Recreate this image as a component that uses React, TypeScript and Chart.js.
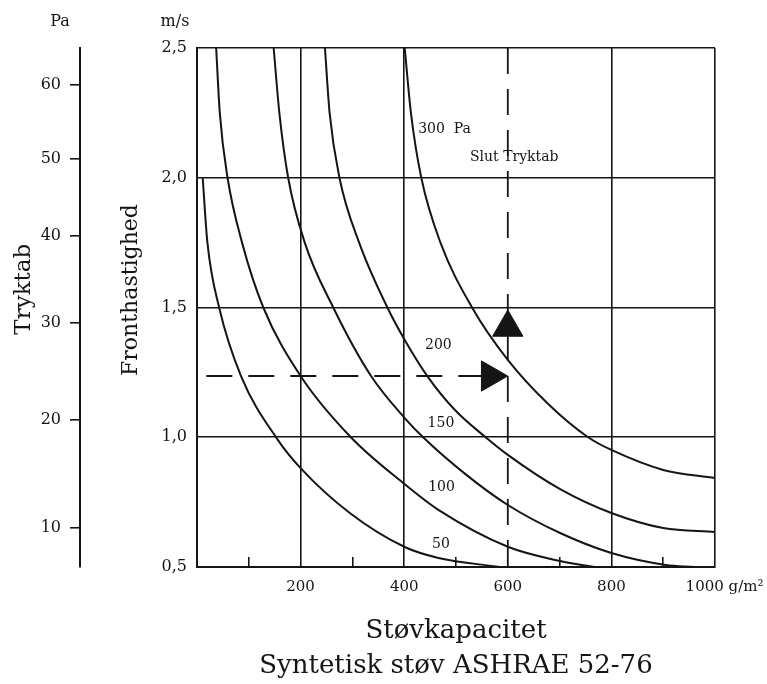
import React, { useEffect, useRef } from 'react';
import { Chart, registerables } from 'chart.js';

Chart.register(...registerables);

const FONT = "'DejaVu Serif', 'Liberation Serif', serif";
const INK = '#151515';

// ---- data (dust capacity g/m² vs. face velocity m/s), one curve per final pressure drop ----
const curve50Dust = [11, 20, 43, 85, 156, 200, 295, 401, 466, 584];
const curve50Vel = [2.0, 1.752, 1.498, 1.236, 0.99, 0.881, 0.708, 0.577, 0.535, 0.5];

const curve100Dust = [37, 44, 59, 87, 128, 200, 297, 401, 466, 600, 701, 768];
const curve100Vel = [2.5, 2.25, 2.0, 1.75, 1.5, 1.236, 1.0, 0.819, 0.72, 0.578, 0.523, 0.5];

const curve150Dust = [148, 159, 176, 208, 263, 336, 401, 438, 520, 600, 701, 800, 905, 960];
const curve150Vel = [2.5, 2.25, 2.0, 1.75, 1.5, 1.236, 1.074, 0.997, 0.855, 0.739, 0.631, 0.554, 0.508, 0.5];

const curve200Dust = [247, 256, 275, 313, 368, 401, 446, 498, 559, 600, 701, 800, 900, 1000];
const curve200Vel = [2.5, 2.25, 2.0, 1.75, 1.498, 1.375, 1.232, 1.105, 0.997, 0.932, 0.8, 0.708, 0.65, 0.635];

const curve300Dust = [401, 413, 433, 470, 531, 600, 678, 755, 800, 900, 1000];
const curve300Vel = [2.5, 2.25, 2.0, 1.75, 1.5, 1.298, 1.128, 1.0, 0.951, 0.874, 0.843];

const curveNames = ['50', '100', '150', '200', '300 Pa'];

// operating point example (dashed guide lines + arrows)
const guideVelocity = 1.236;
const guideStartDust = 18;
const guideDust = 600;
const arrowUpVelocity = 1.423;
const arrowRightDust = 566;

// ---- axes ----
const xMin = 0;
const xMax = 1000;
const xMajorValues = [200, 400, 600, 800, 1000];
const xMajorLabels = ['200', '400', '600', '800', '1000'];
const xUnit = 'g/m²';
const xMinorValues = [100, 300, 500, 700, 900];
const xGridValues = [200, 400, 800, 1000];

const yMin = 0.5;
const yMax = 2.5;
const yTickValues = [0.5, 1.0, 1.5, 2.0, 2.5];
const yTickLabels = ['0,5', '1,0', '1,5', '2,0', '2,5'];

const paTickLabels = ['10', '20', '30', '40', '50', '60'];
const paTickAtVelocity = [0.65, 1.066, 1.44, 1.776, 2.072, 2.357];

// ---- text annotations (data coordinates) ----
const annotations = [
  { text: '300  Pa', x: 427, y: 2.188, align: 'left' },
  { text: 'Slut Tryktab', x: 527, y: 2.078, align: 'left' },
  { text: '200', x: 466, y: 1.355, align: 'center' },
  { text: '150', x: 471, y: 1.055, align: 'center' },
  { text: '100', x: 472, y: 0.808, align: 'center' },
  { text: '50', x: 471, y: 0.589, align: 'center' },
];

const toPoints = (xs: number[], ys: number[]) => xs.map((x, i) => ({ x, y: ys[i] }));

const textPlugin = {
  id: 'chartText',
  afterDatasetsDraw(chart: any) {
    const { ctx, scales, chartArea } = chart;
    const xs = scales.x;
    const ys = scales.y;
    const pa = scales.pa;
    ctx.save();
    ctx.fillStyle = INK;
    ctx.textBaseline = 'middle';
    ctx.font = `14px ${FONT}`;
    for (const a of annotations) {
      ctx.textAlign = a.align;
      ctx.fillText(a.text, xs.getPixelForValue(a.x), ys.getPixelForValue(a.y));
    }
    ctx.font = `16px ${FONT}`;
    ctx.textAlign = 'center';
    ctx.fillText('Pa', pa.right - 20, chartArea.top - 26);
    ctx.fillText('m/s', ys.right - 22, chartArea.top - 26);
    ctx.restore();
  },
};

export default function App() {
  const ref = useRef<HTMLCanvasElement | null>(null);

  useEffect(() => {
    if (!ref.current) return;
    const curveSets = [
      [curve50Dust, curve50Vel],
      [curve100Dust, curve100Vel],
      [curve150Dust, curve150Vel],
      [curve200Dust, curve200Vel],
      [curve300Dust, curve300Vel],
    ];
    const datasets: any[] = [
      {
        type: 'scatter',
        label: 'arrow up',
        data: [{ x: guideDust, y: arrowUpVelocity }],
        pointStyle: 'triangle',
        pointRadius: 17.5,
        pointRotation: 0,
        pointBackgroundColor: INK,
        pointBorderColor: INK,
        pointBorderWidth: 1,
        order: 1,
      },
      {
        type: 'scatter',
        label: 'arrow right',
        data: [{ x: arrowRightDust, y: guideVelocity }],
        pointStyle: 'triangle',
        pointRadius: 17.5,
        pointRotation: 90,
        pointBackgroundColor: INK,
        pointBorderColor: INK,
        pointBorderWidth: 1,
        order: 1,
      },
      {
        type: 'line',
        label: 'guide h',
        data: [
          { x: guideStartDust, y: guideVelocity },
          { x: arrowRightDust, y: guideVelocity },
        ],
        borderColor: INK,
        borderWidth: 1.8,
        borderDash: [26, 16],
        pointRadius: 0,
        order: 2,
      },
      {
        type: 'line',
        label: 'guide v',
        data: [
          { x: guideDust, y: yMax },
          { x: guideDust, y: yMin },
        ],
        borderColor: INK,
        borderWidth: 1.8,
        borderDash: [26, 15],
        pointRadius: 0,
        order: 2,
      },
      ...curveSets.map(([xs, ys], i) => ({
        type: 'line',
        label: curveNames[i],
        data: toPoints(xs, ys),
        borderColor: INK,
        borderWidth: 2,
        pointRadius: 0,
        cubicInterpolationMode: 'monotone',
        fill: false,
        order: 3,
      })),
    ];

    const chart = new Chart(ref.current, {
      type: 'line',
      data: { datasets },
      plugins: [textPlugin],
      options: {
        animation: false,
        responsive: true,
        maintainAspectRatio: false,
        events: [],
        layout: { padding: { top: 48, right: 52, bottom: 0, left: 0 } },
        plugins: {
          legend: { display: false },
          tooltip: { enabled: false },
        },
        scales: {
          x: {
            type: 'linear',
            position: 'bottom',
            min: xMin,
            max: xMax,
            afterBuildTicks: (s: any) => {
              s.ticks = [...xMinorValues, ...xMajorValues]
                .sort((a, b) => a - b)
                .map((v) => ({ value: v }));
            },
            afterFit: (s: any) => {
              s.height = 117;
              s.paddingLeft = 0;
              s.paddingRight = 0;
            },
            ticks: {
              autoSkip: false,
              maxRotation: 0,
              minRotation: 0,
              padding: 21,
              color: INK,
              font: { family: FONT, size: 15 },
              callback: (v: any) => {
                const idx = xMajorValues.indexOf(Number(v));
                if (idx < 0) return '';
                return Number(v) === xMax ? `    ${xMajorLabels[idx]} ${xUnit}` : xMajorLabels[idx];
              },
            },
            grid: {
              drawTicks: true,
              tickLength: -10,
              lineWidth: 1.6,
              color: (c: any) => (xGridValues.includes(c.tick?.value) ? INK : 'rgba(0,0,0,0)'),
              tickColor: (c: any) => (xMinorValues.includes(c.tick?.value) ? INK : 'rgba(0,0,0,0)'),
            },
            border: { display: true, width: 2, color: INK },
            title: {
              display: true,
              text: ['Støvkapacitet', 'Syntetisk støv ASHRAE 52-76'],
              color: INK,
              font: { family: FONT, size: 26, lineHeight: 1.35 },
              padding: { top: 0, bottom: 0 },
            },
          },
          y: {
            type: 'linear',
            position: 'left',
            weight: 0,
            min: yMin,
            max: yMax,
            afterBuildTicks: (s: any) => {
              s.ticks = yTickValues.map((v) => ({ value: v }));
            },
            afterFit: (s: any) => {
              s.width = 117;
              s.paddingTop = 0;
              s.paddingBottom = 0;
            },
            ticks: {
              autoSkip: false,
              padding: 10,
              color: INK,
              font: { family: FONT, size: 16 },
              callback: (_v: any, i: number) => yTickLabels[i],
            },
            grid: { drawTicks: false, lineWidth: 1.6, color: INK },
            border: { display: true, width: 2, color: INK },
            title: {
              display: true,
              text: '     Fronthastighed',
              color: INK,
              font: { family: FONT, size: 22 },
              padding: { top: 38, bottom: 0 },
            },
          },
          pa: {
            type: 'linear',
            position: 'left',
            weight: 1,
            min: yMin,
            max: yMax,
            afterBuildTicks: (s: any) => {
              s.ticks = paTickAtVelocity.map((v) => ({ value: v }));
            },
            afterFit: (s: any) => {
              s.width = 80;
              s.paddingTop = 0;
              s.paddingBottom = 0;
            },
            ticks: {
              autoSkip: false,
              padding: 9,
              color: INK,
              font: { family: FONT, size: 16 },
              callback: (_v: any, i: number) => paTickLabels[i],
            },
            grid: { drawOnChartArea: false, drawTicks: true, tickLength: 10, lineWidth: 1.6, color: INK },
            border: { display: true, width: 2, color: INK },
            title: {
              display: true,
              text: '     Tryktab',
              color: INK,
              font: { family: FONT, size: 23 },
              padding: { top: 10, bottom: 0 },
            },
          },
        },
      } as any,
    });
    return () => chart.destroy();
  }, []);

  return (
    <div style={{ position: 'fixed', left: 0, top: 0, width: 767, height: 684, background: '#ffffff' }}>
      <canvas ref={ref} />
    </div>
  );
}
